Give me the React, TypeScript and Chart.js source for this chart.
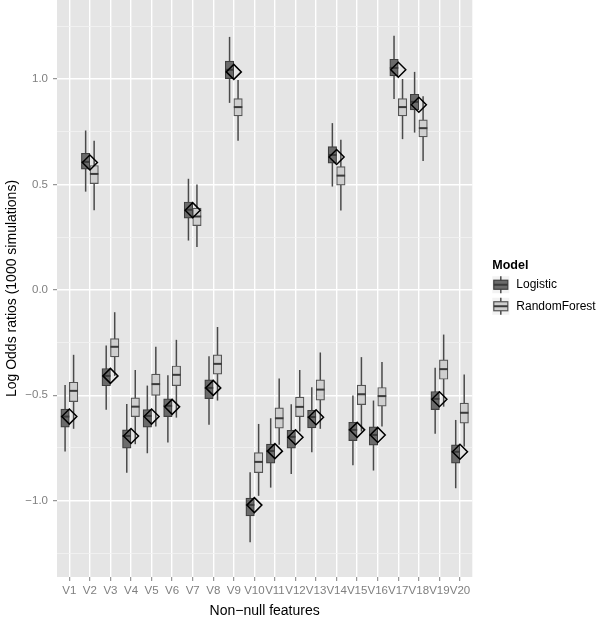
import { useEffect, useRef } from "react";
import { Chart, registerables } from "chart.js";

Chart.register(...registerables);

const categories = ["V1","V2","V3","V4","V5","V6","V7","V8","V9","V10","V11","V12","V13","V14","V15","V16","V17","V18","V19","V20"];

// Logistic regression estimates
const logisticLow = [-0.767,0.466,-0.569,-0.867,-0.775,-0.724,0.234,-0.640,0.887,-1.197,-0.938,-0.874,-0.770,0.490,-0.832,-0.857,0.905,0.746,-0.682,-0.941];
const logisticQ1 = [-0.651,0.573,-0.455,-0.751,-0.651,-0.601,0.340,-0.516,1.002,-1.072,-0.822,-0.751,-0.655,0.601,-0.715,-0.737,1.015,0.854,-0.568,-0.822];
const logisticMedian = [-0.601,0.607,-0.408,-0.693,-0.598,-0.550,0.380,-0.465,1.044,-1.020,-0.764,-0.697,-0.603,0.640,-0.664,-0.688,1.053,0.892,-0.517,-0.768];
const logisticQ3 = [-0.566,0.648,-0.373,-0.664,-0.568,-0.517,0.417,-0.427,1.085,-0.988,-0.732,-0.666,-0.571,0.680,-0.628,-0.650,1.094,0.928,-0.482,-0.735];
const logisticHigh = [-0.451,0.756,-0.264,-0.541,-0.454,-0.405,0.527,-0.315,1.200,-0.865,-0.609,-0.542,-0.462,0.791,-0.501,-0.525,1.205,1.034,-0.369,-0.617];

// Random forest estimates
const forestLow = [-0.659,0.378,-0.408,-0.732,-0.648,-0.606,0.203,-0.525,0.707,-0.977,-0.735,-0.672,-0.659,0.376,-0.672,-0.648,0.715,0.611,-0.554,-0.743];
const forestQ1 = [-0.530,0.504,-0.318,-0.601,-0.501,-0.454,0.305,-0.400,0.825,-0.867,-0.656,-0.601,-0.523,0.497,-0.544,-0.552,0.825,0.726,-0.424,-0.632];
const forestMedian = [-0.479,0.550,-0.270,-0.554,-0.447,-0.403,0.348,-0.351,0.867,-0.816,-0.609,-0.555,-0.473,0.542,-0.495,-0.504,0.867,0.767,-0.376,-0.583];
const forestQ3 = [-0.438,0.590,-0.231,-0.512,-0.400,-0.361,0.388,-0.308,0.907,-0.772,-0.560,-0.509,-0.427,0.585,-0.452,-0.463,0.907,0.806,-0.332,-0.537];
const forestHigh = [-0.308,0.707,-0.106,-0.380,-0.270,-0.237,0.500,-0.176,0.996,-0.636,-0.421,-0.380,-0.297,0.712,-0.319,-0.342,1.000,0.919,-0.212,-0.402];

// True log odds ratios (diamonds)
const trueValues = [-0.601,0.604,-0.408,-0.693,-0.601,-0.555,0.378,-0.465,1.034,-1.021,-0.765,-0.699,-0.604,0.630,-0.664,-0.688,1.044,0.878,-0.519,-0.768];

const yTickValues = [-1.25,-1.0,-0.75,-0.5,-0.25,0,0.25,0.5,0.75,1.0,1.25];

const FONT = "'Liberation Sans', Arial, Helvetica, sans-serif";

const isMajor = (v: number) => Math.abs(v * 2 - Math.round(v * 2)) < 1e-6;
const fmtTick = (v: number) => {
  const s = Math.abs(v).toFixed(1);
  return v < -1e-9 ? "\u2212" + s : s;
};

const panelPlugin = {
  id: "panelBg",
  beforeDraw(chart: any) {
    const { ctx, chartArea } = chart;
    ctx.save();
    ctx.fillStyle = "#ffffff";
    ctx.fillRect(0, 0, chart.width, chart.height);
    ctx.fillStyle = "#e5e5e5";
    ctx.fillRect(chartArea.left, chartArea.top, chartArea.right - chartArea.left, chartArea.bottom - chartArea.top);
    ctx.restore();
  },
};

const boxPlugin = {
  id: "boxExtras",
  beforeDatasetDraw(chart: any, args: any) {
    const ds = chart.data.datasets[args.index];
    if (!ds.whiskerLow) return;
    const ctx = chart.ctx;
    const y = chart.scales.y;
    ctx.save();
    ctx.strokeStyle = ds.whiskerColor;
    ctx.lineWidth = 1.5;
    args.meta.data.forEach((bar: any, i: number) => {
      const x = bar.x;
      ctx.beginPath();
      ctx.moveTo(x, y.getPixelForValue(ds.whiskerLow[i]));
      ctx.lineTo(x, y.getPixelForValue(ds.whiskerHigh[i]));
      ctx.stroke();
    });
    ctx.restore();
  },
  afterDatasetDraw(chart: any, args: any) {
    const ds = chart.data.datasets[args.index];
    if (!ds.medians) return;
    const ctx = chart.ctx;
    const y = chart.scales.y;
    ctx.save();
    ctx.strokeStyle = ds.medianColor;
    ctx.lineWidth = 2;
    args.meta.data.forEach((bar: any, i: number) => {
      const py = y.getPixelForValue(ds.medians[i]);
      ctx.beginPath();
      ctx.moveTo(bar.x - bar.width / 2, py);
      ctx.lineTo(bar.x + bar.width / 2, py);
      ctx.stroke();
    });
    ctx.restore();
  },
};

const legendPlugin = {
  id: "ggLegend",
  afterDraw(chart: any) {
    const ctx = chart.ctx;
    const items = chart.data.datasets.filter((d: any) => d.whiskerLow);
    const x0 = chart.chartArea.right + 20;
    const cy = (chart.chartArea.top + chart.chartArea.bottom) / 2;
    const key = 17;
    const gap = 4.5;
    const titleH = 16;
    const totalH = titleH + items.length * key + (items.length - 1) * gap;
    let yy = cy - totalH / 2 - 1;
    ctx.save();
    ctx.fillStyle = "#000";
    ctx.font = "bold 12.5px " + FONT;
    ctx.textBaseline = "middle";
    ctx.textAlign = "left";
    ctx.fillText("Model", x0, yy + 5);
    yy += titleH;
    items.forEach((d: any) => {
      ctx.fillStyle = "#f2f2f2";
      ctx.fillRect(x0, yy, key, key);
      const mx = x0 + key / 2;
      ctx.strokeStyle = d.whiskerColor;
      ctx.lineWidth = 1.5;
      ctx.beginPath();
      ctx.moveTo(mx, yy);
      ctx.lineTo(mx, yy + key);
      ctx.stroke();
      ctx.fillStyle = d.backgroundColor;
      ctx.fillRect(x0 + 1.5, yy + 4, key - 3, key - 8);
      ctx.strokeStyle = d.borderColor;
      ctx.lineWidth = 1.2;
      ctx.strokeRect(x0 + 1.5, yy + 4, key - 3, key - 8);
      ctx.strokeStyle = d.medianColor;
      ctx.lineWidth = 2;
      ctx.beginPath();
      ctx.moveTo(x0 + 1.5, yy + key / 2);
      ctx.lineTo(x0 + key - 1.5, yy + key / 2);
      ctx.stroke();
      ctx.fillStyle = "#000";
      ctx.font = "12px " + FONT;
      ctx.fillText(d.label, x0 + key + 7, yy + key / 2);
      yy += key + gap;
    });
    ctx.restore();
  },
};

export default function App() {
  const ref = useRef<HTMLCanvasElement | null>(null);

  useEffect(() => {
    document.body.style.margin = "0";
    const canvas = ref.current;
    if (!canvas) return;

    const boxData = (q1: number[], q3: number[]) =>
      categories.map((_, i) => ({ x: i + 1, y: [q1[i], q3[i]] }));

    const chart = new Chart(canvas, {
      type: "bar",
      data: {
        datasets: [
          {
            type: "line",
            label: "Truth",
            data: categories.map((_, i) => ({ x: i + 1, y: trueValues[i] })),
            showLine: false,
            pointStyle: "rectRot",
            pointRadius: 7.5,
            pointHoverRadius: 7.5,
            pointBorderColor: "#000000",
            pointBackgroundColor: "rgba(0,0,0,0)",
            pointBorderWidth: 1.5,
            order: 0,
          } as any,
          {
            label: "Logistic",
            data: boxData(logisticQ1, logisticQ3),
            backgroundColor: "#6b6b6b",
            borderColor: "#3f3f3f",
            borderWidth: 1.2,
            borderSkipped: false,
            barThickness: 8.5,
            whiskerLow: logisticLow,
            whiskerHigh: logisticHigh,
            medians: logisticMedian,
            whiskerColor: "#4a4a4a",
            medianColor: "#3a3a3a",
            order: 1,
          } as any,
          {
            label: "RandomForest",
            data: boxData(forestQ1, forestQ3),
            backgroundColor: "#cfcfcf",
            borderColor: "#555555",
            borderWidth: 1.2,
            borderSkipped: false,
            barThickness: 8.5,
            whiskerLow: forestLow,
            whiskerHigh: forestHigh,
            medians: forestMedian,
            whiskerColor: "#4a4a4a",
            medianColor: "#3a3a3a",
            order: 2,
          } as any,
        ],
      },
      options: {
        responsive: false,
        animation: false,
        devicePixelRatio: 1,
        layout: { autoPadding: false, padding: { left: 0, right: 127.7, top: 0, bottom: 0 } },
        plugins: { legend: { display: false }, tooltip: { enabled: false } },
        scales: {
          x: {
            type: "linear",
            min: 0.4,
            max: 20.6,
            offset: false,
            afterBuildTicks: (s: any) => {
              s.ticks = categories.map((_, i) => ({ value: i + 1 }));
            },
            afterFit: (s: any) => {
              s.height = 41;
              s.paddingLeft = 0;
              s.paddingRight = 0;
            },
            border: { display: false },
            grid: {
              offset: false,
              color: "#ffffff",
              lineWidth: 1.4,
              tickColor: "#7f7f7f",
              tickWidth: 1,
              tickLength: 4,
              drawTicks: true,
            },
            ticks: {
              autoSkip: false,
              maxRotation: 0,
              minRotation: 0,
              padding: 3,
              color: "#7f7f7f",
              font: { family: FONT, size: 11.5 },
              callback: (v: any) => categories[Math.round(Number(v)) - 1] ?? "",
            },
            title: {
              display: true,
              text: "Non\u2212null features",
              color: "#000000",
              font: { family: FONT, size: 14, lineHeight: 1 },
              padding: { top: 0, bottom: 0 },
            },
          },
          y: {
            type: "linear",
            min: -1.362,
            max: 1.375,
            afterBuildTicks: (s: any) => {
              s.ticks = yTickValues.map((v) => ({ value: v }));
            },
            afterFit: (s: any) => {
              s.width = 57;
              s.paddingTop = 0;
              s.paddingBottom = 0;
            },
            border: { display: false },
            grid: {
              color: (c: any) => (isMajor(c.tick.value) ? "#ffffff" : "#f2f2f2"),
              lineWidth: (c: any) => (isMajor(c.tick.value) ? 1.4 : 0.8),
              tickColor: (c: any) => (isMajor(c.tick.value) ? "#7f7f7f" : "rgba(0,0,0,0)"),
              tickWidth: 1,
              tickLength: 4,
              drawTicks: true,
            },
            ticks: {
              autoSkip: false,
              padding: 5,
              color: "#7f7f7f",
              font: { family: FONT, size: 11.5 },
              callback: (v: any) => (isMajor(Number(v)) ? fmtTick(Number(v)) : ""),
            },
            title: {
              display: true,
              text: "Log Odds ratios (1000 simulations)",
              color: "#000000",
              font: { family: FONT, size: 14, lineHeight: 1 },
              padding: { top: 5, bottom: 0 },
            },
          },
        },
      } as any,
      plugins: [panelPlugin, boxPlugin, legendPlugin],
    });

    return () => chart.destroy();
  }, []);

  return (
    <div style={{ width: 600, height: 618 }}>
      <canvas ref={ref} width={600} height={618} style={{ display: "block", width: 600, height: 618 }} />
    </div>
  );
}
